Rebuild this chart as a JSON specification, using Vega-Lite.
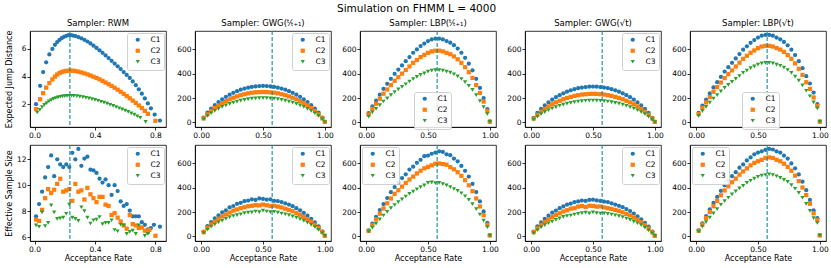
{
"$schema":"https://vega.github.io/schema/vega-lite/v6.json",
"padding":{"left":4,"top":3,"right":2,"bottom":2},
"title":{"text":"Simulation on FHMM L = 4000","fontSize":10.5,"anchor":"middle","offset":4,"fontWeight":"normal","font":"DejaVu Sans","color":"#000"},
"config":{
"font":"DejaVu Sans",
"view":{"stroke":"#000","strokeWidth":0.8},
"point":{"filled":true,"size":18,"opacity":1},
"rule":{"color":"#138d90","strokeDash":[4,2],"strokeWidth":1.1},
"range":{"category":["#1f77b4","#ff7f0e","#2ca02c"],"symbol":["circle","square","triangle-down"]},
"axis":{"grid":false,"labelFontSize":7.5,"titleFontSize":8,"titleFontWeight":"normal","labelColor":"#000","titleColor":"#000","tickColor":"#000","domainColor":"#000","tickSize":3,"labelPadding":1,"titlePadding":2,"domainWidth":0.8,"tickWidth":0.8,"labelFlush":false,"labelOverlap":false},
"axisX":{"labelAngle":0},
"title":{"fontSize":8.5,"fontWeight":"normal","offset":3,"color":"#000"},
"legend":{"labelFontSize":7.5,"symbolSize":18,"fillColor":"rgba(255,255,255,0.85)","strokeColor":"#d0d0d0","cornerRadius":2,"padding":3,"rowPadding":0,"symbolOffset":4,"labelOffset":9,"offset":2,"labelColor":"#000","orient":"top-right"}
},
"datasets":{
"r1":[{"x":0.234}],
"r2":[{"x":0.574}],
"A1":[
{"s":"C1","x":0.01,"y":2.0},{"s":"C1","x":0.037,"y":3.33},{"s":"C1","x":0.057,"y":4.33},{"s":"C1","x":0.077,"y":5.03},{"s":"C1","x":0.098,"y":5.6},{"s":"C1","x":0.118,"y":6.0},{"s":"C1","x":0.135,"y":6.3},{"s":"C1","x":0.15,"y":6.5},{"s":"C1","x":0.165,"y":6.65},{"s":"C1","x":0.18,"y":6.78},{"s":"C1","x":0.195,"y":6.88},{"s":"C1","x":0.21,"y":6.95},{"s":"C1","x":0.225,"y":7.0},{"s":"C1","x":0.24,"y":7.0},{"s":"C1","x":0.255,"y":6.97},{"s":"C1","x":0.27,"y":6.93},{"s":"C1","x":0.29,"y":6.86},{"s":"C1","x":0.31,"y":6.77},{"s":"C1","x":0.33,"y":6.66},{"s":"C1","x":0.35,"y":6.54},{"s":"C1","x":0.37,"y":6.4},{"s":"C1","x":0.39,"y":6.24},{"s":"C1","x":0.41,"y":6.07},{"s":"C1","x":0.43,"y":5.9},{"s":"C1","x":0.45,"y":5.72},{"s":"C1","x":0.47,"y":5.53},{"s":"C1","x":0.49,"y":5.34},{"s":"C1","x":0.51,"y":5.14},{"s":"C1","x":0.53,"y":4.94},{"s":"C1","x":0.55,"y":4.74},{"s":"C1","x":0.57,"y":4.54},{"s":"C1","x":0.59,"y":4.33},{"s":"C1","x":0.61,"y":4.12},{"s":"C1","x":0.63,"y":3.9},{"s":"C1","x":0.65,"y":3.65},{"s":"C1","x":0.67,"y":3.38},{"s":"C1","x":0.69,"y":3.08},{"s":"C1","x":0.71,"y":2.76},{"s":"C1","x":0.73,"y":2.42},{"s":"C1","x":0.75,"y":2.06},{"s":"C1","x":0.77,"y":1.7},{"s":"C1","x":0.795,"y":1.25},{"s":"C1","x":0.83,"y":0.82},
{"s":"C2","x":0.01,"y":1.64},{"s":"C2","x":0.037,"y":2.36},{"s":"C2","x":0.057,"y":2.8},{"s":"C2","x":0.077,"y":3.2},{"s":"C2","x":0.098,"y":3.53},{"s":"C2","x":0.118,"y":3.8},{"s":"C2","x":0.135,"y":4.0},{"s":"C2","x":0.15,"y":4.15},{"s":"C2","x":0.165,"y":4.25},{"s":"C2","x":0.18,"y":4.33},{"s":"C2","x":0.195,"y":4.38},{"s":"C2","x":0.21,"y":4.41},{"s":"C2","x":0.225,"y":4.43},{"s":"C2","x":0.24,"y":4.43},{"s":"C2","x":0.255,"y":4.42},{"s":"C2","x":0.27,"y":4.4},{"s":"C2","x":0.29,"y":4.36},{"s":"C2","x":0.31,"y":4.3},{"s":"C2","x":0.33,"y":4.23},{"s":"C2","x":0.35,"y":4.16},{"s":"C2","x":0.37,"y":4.08},{"s":"C2","x":0.39,"y":3.99},{"s":"C2","x":0.41,"y":3.9},{"s":"C2","x":0.43,"y":3.8},{"s":"C2","x":0.45,"y":3.69},{"s":"C2","x":0.47,"y":3.57},{"s":"C2","x":0.49,"y":3.45},{"s":"C2","x":0.51,"y":3.32},{"s":"C2","x":0.53,"y":3.19},{"s":"C2","x":0.55,"y":3.05},{"s":"C2","x":0.57,"y":2.9},{"s":"C2","x":0.59,"y":2.75},{"s":"C2","x":0.61,"y":2.59},{"s":"C2","x":0.63,"y":2.43},{"s":"C2","x":0.65,"y":2.26},{"s":"C2","x":0.67,"y":2.09},{"s":"C2","x":0.69,"y":1.91},{"s":"C2","x":0.71,"y":1.72},{"s":"C2","x":0.73,"y":1.52},{"s":"C2","x":0.75,"y":1.3},{"s":"C2","x":0.8,"y":0.8},
{"s":"C3","x":0.018,"y":1.4},{"s":"C3","x":0.035,"y":1.6},{"s":"C3","x":0.05,"y":1.8},{"s":"C3","x":0.065,"y":1.95},{"s":"C3","x":0.08,"y":2.08},{"s":"C3","x":0.095,"y":2.2},{"s":"C3","x":0.11,"y":2.3},{"s":"C3","x":0.125,"y":2.38},{"s":"C3","x":0.14,"y":2.45},{"s":"C3","x":0.155,"y":2.5},{"s":"C3","x":0.17,"y":2.54},{"s":"C3","x":0.185,"y":2.57},{"s":"C3","x":0.2,"y":2.59},{"s":"C3","x":0.215,"y":2.6},{"s":"C3","x":0.23,"y":2.61},{"s":"C3","x":0.245,"y":2.61},{"s":"C3","x":0.26,"y":2.6},{"s":"C3","x":0.28,"y":2.58},{"s":"C3","x":0.3,"y":2.55},{"s":"C3","x":0.32,"y":2.51},{"s":"C3","x":0.34,"y":2.47},{"s":"C3","x":0.36,"y":2.42},{"s":"C3","x":0.38,"y":2.37},{"s":"C3","x":0.4,"y":2.31},{"s":"C3","x":0.42,"y":2.25},{"s":"C3","x":0.44,"y":2.18},{"s":"C3","x":0.46,"y":2.11},{"s":"C3","x":0.48,"y":2.04},{"s":"C3","x":0.5,"y":1.96},{"s":"C3","x":0.52,"y":1.88},{"s":"C3","x":0.54,"y":1.8},{"s":"C3","x":0.56,"y":1.71},{"s":"C3","x":0.58,"y":1.62},{"s":"C3","x":0.6,"y":1.53},{"s":"C3","x":0.62,"y":1.44},{"s":"C3","x":0.64,"y":1.34},{"s":"C3","x":0.66,"y":1.24},{"s":"C3","x":0.68,"y":1.13},{"s":"C3","x":0.7,"y":1.02},{"s":"C3","x":0.735,"y":0.72}
],
"A2":[
{"s":"C1","x":0.02,"y":39},{"s":"C1","x":0.05,"y":80},{"s":"C1","x":0.08,"y":113},{"s":"C1","x":0.11,"y":142},{"s":"C1","x":0.14,"y":167},{"s":"C1","x":0.17,"y":190},{"s":"C1","x":0.2,"y":210},{"s":"C1","x":0.23,"y":228},{"s":"C1","x":0.26,"y":243},{"s":"C1","x":0.29,"y":257},{"s":"C1","x":0.32,"y":269},{"s":"C1","x":0.35,"y":278},{"s":"C1","x":0.38,"y":286},{"s":"C1","x":0.41,"y":292},{"s":"C1","x":0.44,"y":296},{"s":"C1","x":0.47,"y":299},{"s":"C1","x":0.5,"y":300},{"s":"C1","x":0.53,"y":299},{"s":"C1","x":0.56,"y":296},{"s":"C1","x":0.59,"y":292},{"s":"C1","x":0.62,"y":286},{"s":"C1","x":0.65,"y":278},{"s":"C1","x":0.68,"y":269},{"s":"C1","x":0.71,"y":257},{"s":"C1","x":0.74,"y":243},{"s":"C1","x":0.77,"y":228},{"s":"C1","x":0.8,"y":210},{"s":"C1","x":0.83,"y":190},{"s":"C1","x":0.86,"y":167},{"s":"C1","x":0.89,"y":142},{"s":"C1","x":0.92,"y":113},{"s":"C1","x":0.95,"y":80},{"s":"C1","x":0.98,"y":39},{"s":"C1","x":1,"y":5},
{"s":"C2","x":0.02,"y":33},{"s":"C2","x":0.05,"y":66},{"s":"C2","x":0.08,"y":94},{"s":"C2","x":0.11,"y":118},{"s":"C2","x":0.14,"y":139},{"s":"C2","x":0.17,"y":158},{"s":"C2","x":0.2,"y":175},{"s":"C2","x":0.23,"y":190},{"s":"C2","x":0.26,"y":203},{"s":"C2","x":0.29,"y":214},{"s":"C2","x":0.32,"y":224},{"s":"C2","x":0.35,"y":232},{"s":"C2","x":0.38,"y":239},{"s":"C2","x":0.41,"y":244},{"s":"C2","x":0.44,"y":247},{"s":"C2","x":0.47,"y":249},{"s":"C2","x":0.5,"y":250},{"s":"C2","x":0.53,"y":249},{"s":"C2","x":0.56,"y":247},{"s":"C2","x":0.59,"y":244},{"s":"C2","x":0.62,"y":239},{"s":"C2","x":0.65,"y":232},{"s":"C2","x":0.68,"y":224},{"s":"C2","x":0.71,"y":214},{"s":"C2","x":0.74,"y":203},{"s":"C2","x":0.77,"y":190},{"s":"C2","x":0.8,"y":175},{"s":"C2","x":0.83,"y":158},{"s":"C2","x":0.86,"y":139},{"s":"C2","x":0.89,"y":118},{"s":"C2","x":0.92,"y":94},{"s":"C2","x":0.95,"y":66},{"s":"C2","x":0.98,"y":33},{"s":"C2","x":1,"y":4},
{"s":"C3","x":0.02,"y":26},{"s":"C3","x":0.05,"y":53},{"s":"C3","x":0.08,"y":75},{"s":"C3","x":0.11,"y":94},{"s":"C3","x":0.14,"y":111},{"s":"C3","x":0.17,"y":127},{"s":"C3","x":0.2,"y":140},{"s":"C3","x":0.23,"y":152},{"s":"C3","x":0.26,"y":162},{"s":"C3","x":0.29,"y":171},{"s":"C3","x":0.32,"y":179},{"s":"C3","x":0.35,"y":185},{"s":"C3","x":0.38,"y":191},{"s":"C3","x":0.41,"y":195},{"s":"C3","x":0.44,"y":198},{"s":"C3","x":0.47,"y":199},{"s":"C3","x":0.5,"y":200},{"s":"C3","x":0.53,"y":199},{"s":"C3","x":0.56,"y":198},{"s":"C3","x":0.59,"y":195},{"s":"C3","x":0.62,"y":191},{"s":"C3","x":0.65,"y":185},{"s":"C3","x":0.68,"y":179},{"s":"C3","x":0.71,"y":171},{"s":"C3","x":0.74,"y":162},{"s":"C3","x":0.77,"y":152},{"s":"C3","x":0.8,"y":140},{"s":"C3","x":0.83,"y":127},{"s":"C3","x":0.86,"y":111},{"s":"C3","x":0.89,"y":94},{"s":"C3","x":0.92,"y":75},{"s":"C3","x":0.95,"y":53},{"s":"C3","x":0.98,"y":26},{"s":"C3","x":1,"y":3}
],
"A3":[
{"s":"C1","x":0.02,"y":76},{"s":"C1","x":0.05,"y":131},{"s":"C1","x":0.08,"y":179},{"s":"C1","x":0.11,"y":228},{"s":"C1","x":0.14,"y":276},{"s":"C1","x":0.17,"y":317},{"s":"C1","x":0.2,"y":359},{"s":"C1","x":0.23,"y":400},{"s":"C1","x":0.26,"y":435},{"s":"C1","x":0.29,"y":469},{"s":"C1","x":0.32,"y":504},{"s":"C1","x":0.35,"y":538},{"s":"C1","x":0.38,"y":573},{"s":"C1","x":0.41,"y":600},{"s":"C1","x":0.44,"y":628},{"s":"C1","x":0.47,"y":649},{"s":"C1","x":0.5,"y":669},{"s":"C1","x":0.53,"y":683},{"s":"C1","x":0.56,"y":690},{"s":"C1","x":0.59,"y":690},{"s":"C1","x":0.62,"y":683},{"s":"C1","x":0.65,"y":669},{"s":"C1","x":0.68,"y":656},{"s":"C1","x":0.71,"y":635},{"s":"C1","x":0.74,"y":607},{"s":"C1","x":0.77,"y":573},{"s":"C1","x":0.8,"y":531},{"s":"C1","x":0.83,"y":483},{"s":"C1","x":0.86,"y":428},{"s":"C1","x":0.89,"y":359},{"s":"C1","x":0.92,"y":283},{"s":"C1","x":0.95,"y":200},{"s":"C1","x":0.98,"y":110},{"s":"C1","x":1,"y":8},
{"s":"C2","x":0.02,"y":65},{"s":"C2","x":0.05,"y":112},{"s":"C2","x":0.08,"y":153},{"s":"C2","x":0.11,"y":195},{"s":"C2","x":0.14,"y":236},{"s":"C2","x":0.17,"y":271},{"s":"C2","x":0.2,"y":307},{"s":"C2","x":0.23,"y":342},{"s":"C2","x":0.26,"y":372},{"s":"C2","x":0.29,"y":401},{"s":"C2","x":0.32,"y":431},{"s":"C2","x":0.35,"y":460},{"s":"C2","x":0.38,"y":490},{"s":"C2","x":0.41,"y":513},{"s":"C2","x":0.44,"y":537},{"s":"C2","x":0.47,"y":555},{"s":"C2","x":0.5,"y":572},{"s":"C2","x":0.53,"y":584},{"s":"C2","x":0.56,"y":590},{"s":"C2","x":0.59,"y":590},{"s":"C2","x":0.62,"y":584},{"s":"C2","x":0.65,"y":572},{"s":"C2","x":0.68,"y":561},{"s":"C2","x":0.71,"y":543},{"s":"C2","x":0.74,"y":519},{"s":"C2","x":0.77,"y":490},{"s":"C2","x":0.8,"y":454},{"s":"C2","x":0.83,"y":413},{"s":"C2","x":0.86,"y":366},{"s":"C2","x":0.89,"y":307},{"s":"C2","x":0.92,"y":242},{"s":"C2","x":0.95,"y":171},{"s":"C2","x":0.98,"y":94},{"s":"C2","x":1,"y":6},
{"s":"C3","x":0.02,"y":47},{"s":"C3","x":0.05,"y":82},{"s":"C3","x":0.08,"y":112},{"s":"C3","x":0.11,"y":142},{"s":"C3","x":0.14,"y":172},{"s":"C3","x":0.17,"y":198},{"s":"C3","x":0.2,"y":224},{"s":"C3","x":0.23,"y":249},{"s":"C3","x":0.26,"y":271},{"s":"C3","x":0.29,"y":292},{"s":"C3","x":0.32,"y":314},{"s":"C3","x":0.35,"y":335},{"s":"C3","x":0.38,"y":357},{"s":"C3","x":0.41,"y":374},{"s":"C3","x":0.44,"y":391},{"s":"C3","x":0.47,"y":404},{"s":"C3","x":0.5,"y":417},{"s":"C3","x":0.53,"y":426},{"s":"C3","x":0.56,"y":430},{"s":"C3","x":0.59,"y":430},{"s":"C3","x":0.62,"y":426},{"s":"C3","x":0.65,"y":417},{"s":"C3","x":0.68,"y":409},{"s":"C3","x":0.71,"y":396},{"s":"C3","x":0.74,"y":378},{"s":"C3","x":0.77,"y":357},{"s":"C3","x":0.8,"y":331},{"s":"C3","x":0.83,"y":301},{"s":"C3","x":0.86,"y":267},{"s":"C3","x":0.89,"y":224},{"s":"C3","x":0.92,"y":176},{"s":"C3","x":0.95,"y":125},{"s":"C3","x":0.98,"y":69},{"s":"C3","x":1,"y":4}
],
"A4":[
{"s":"C1","x":0.02,"y":38},{"s":"C1","x":0.05,"y":78},{"s":"C1","x":0.08,"y":111},{"s":"C1","x":0.11,"y":139},{"s":"C1","x":0.14,"y":164},{"s":"C1","x":0.17,"y":187},{"s":"C1","x":0.2,"y":207},{"s":"C1","x":0.23,"y":224},{"s":"C1","x":0.26,"y":239},{"s":"C1","x":0.29,"y":253},{"s":"C1","x":0.32,"y":264},{"s":"C1","x":0.35,"y":273},{"s":"C1","x":0.38,"y":281},{"s":"C1","x":0.41,"y":287},{"s":"C1","x":0.44,"y":291},{"s":"C1","x":0.47,"y":294},{"s":"C1","x":0.5,"y":295},{"s":"C1","x":0.53,"y":294},{"s":"C1","x":0.56,"y":291},{"s":"C1","x":0.59,"y":287},{"s":"C1","x":0.62,"y":281},{"s":"C1","x":0.65,"y":273},{"s":"C1","x":0.68,"y":264},{"s":"C1","x":0.71,"y":253},{"s":"C1","x":0.74,"y":239},{"s":"C1","x":0.77,"y":224},{"s":"C1","x":0.8,"y":207},{"s":"C1","x":0.83,"y":187},{"s":"C1","x":0.86,"y":164},{"s":"C1","x":0.89,"y":139},{"s":"C1","x":0.92,"y":111},{"s":"C1","x":0.95,"y":78},{"s":"C1","x":0.98,"y":38},{"s":"C1","x":1,"y":5},
{"s":"C2","x":0.02,"y":31},{"s":"C2","x":0.05,"y":62},{"s":"C2","x":0.08,"y":88},{"s":"C2","x":0.11,"y":111},{"s":"C2","x":0.14,"y":131},{"s":"C2","x":0.17,"y":149},{"s":"C2","x":0.2,"y":165},{"s":"C2","x":0.23,"y":178},{"s":"C2","x":0.26,"y":191},{"s":"C2","x":0.29,"y":201},{"s":"C2","x":0.32,"y":210},{"s":"C2","x":0.35,"y":218},{"s":"C2","x":0.38,"y":224},{"s":"C2","x":0.41,"y":229},{"s":"C2","x":0.44,"y":232},{"s":"C2","x":0.47,"y":234},{"s":"C2","x":0.5,"y":235},{"s":"C2","x":0.53,"y":234},{"s":"C2","x":0.56,"y":232},{"s":"C2","x":0.59,"y":229},{"s":"C2","x":0.62,"y":224},{"s":"C2","x":0.65,"y":218},{"s":"C2","x":0.68,"y":210},{"s":"C2","x":0.71,"y":201},{"s":"C2","x":0.74,"y":191},{"s":"C2","x":0.77,"y":178},{"s":"C2","x":0.8,"y":165},{"s":"C2","x":0.83,"y":149},{"s":"C2","x":0.86,"y":131},{"s":"C2","x":0.89,"y":111},{"s":"C2","x":0.92,"y":88},{"s":"C2","x":0.95,"y":62},{"s":"C2","x":0.98,"y":31},{"s":"C2","x":1,"y":4},
{"s":"C3","x":0.02,"y":23},{"s":"C3","x":0.05,"y":48},{"s":"C3","x":0.08,"y":68},{"s":"C3","x":0.11,"y":85},{"s":"C3","x":0.14,"y":100},{"s":"C3","x":0.17,"y":114},{"s":"C3","x":0.2,"y":126},{"s":"C3","x":0.23,"y":137},{"s":"C3","x":0.26,"y":146},{"s":"C3","x":0.29,"y":154},{"s":"C3","x":0.32,"y":161},{"s":"C3","x":0.35,"y":167},{"s":"C3","x":0.38,"y":172},{"s":"C3","x":0.41,"y":175},{"s":"C3","x":0.44,"y":178},{"s":"C3","x":0.47,"y":179},{"s":"C3","x":0.5,"y":180},{"s":"C3","x":0.53,"y":179},{"s":"C3","x":0.56,"y":178},{"s":"C3","x":0.59,"y":175},{"s":"C3","x":0.62,"y":172},{"s":"C3","x":0.65,"y":167},{"s":"C3","x":0.68,"y":161},{"s":"C3","x":0.71,"y":154},{"s":"C3","x":0.74,"y":146},{"s":"C3","x":0.77,"y":137},{"s":"C3","x":0.8,"y":126},{"s":"C3","x":0.83,"y":114},{"s":"C3","x":0.86,"y":100},{"s":"C3","x":0.89,"y":85},{"s":"C3","x":0.92,"y":68},{"s":"C3","x":0.95,"y":48},{"s":"C3","x":0.98,"y":23},{"s":"C3","x":1,"y":3}
],
"A5":[
{"s":"C1","x":0.02,"y":79},{"s":"C1","x":0.05,"y":137},{"s":"C1","x":0.08,"y":187},{"s":"C1","x":0.11,"y":238},{"s":"C1","x":0.14,"y":288},{"s":"C1","x":0.17,"y":331},{"s":"C1","x":0.2,"y":374},{"s":"C1","x":0.23,"y":418},{"s":"C1","x":0.26,"y":454},{"s":"C1","x":0.29,"y":490},{"s":"C1","x":0.32,"y":526},{"s":"C1","x":0.35,"y":562},{"s":"C1","x":0.38,"y":598},{"s":"C1","x":0.41,"y":626},{"s":"C1","x":0.44,"y":655},{"s":"C1","x":0.47,"y":677},{"s":"C1","x":0.5,"y":698},{"s":"C1","x":0.53,"y":713},{"s":"C1","x":0.56,"y":720},{"s":"C1","x":0.59,"y":720},{"s":"C1","x":0.62,"y":713},{"s":"C1","x":0.65,"y":698},{"s":"C1","x":0.68,"y":684},{"s":"C1","x":0.71,"y":662},{"s":"C1","x":0.74,"y":634},{"s":"C1","x":0.77,"y":598},{"s":"C1","x":0.8,"y":554},{"s":"C1","x":0.83,"y":504},{"s":"C1","x":0.86,"y":446},{"s":"C1","x":0.89,"y":380},{"s":"C1","x":0.92,"y":320},{"s":"C1","x":0.95,"y":245},{"s":"C1","x":0.98,"y":150},{"s":"C1","x":1,"y":8},
{"s":"C2","x":0.02,"y":69},{"s":"C2","x":0.05,"y":120},{"s":"C2","x":0.08,"y":164},{"s":"C2","x":0.11,"y":208},{"s":"C2","x":0.14,"y":252},{"s":"C2","x":0.17,"y":290},{"s":"C2","x":0.2,"y":328},{"s":"C2","x":0.23,"y":365},{"s":"C2","x":0.26,"y":397},{"s":"C2","x":0.29,"y":428},{"s":"C2","x":0.32,"y":460},{"s":"C2","x":0.35,"y":491},{"s":"C2","x":0.38,"y":523},{"s":"C2","x":0.41,"y":548},{"s":"C2","x":0.44,"y":573},{"s":"C2","x":0.47,"y":592},{"s":"C2","x":0.5,"y":611},{"s":"C2","x":0.53,"y":624},{"s":"C2","x":0.56,"y":630},{"s":"C2","x":0.59,"y":630},{"s":"C2","x":0.62,"y":624},{"s":"C2","x":0.65,"y":611},{"s":"C2","x":0.68,"y":599},{"s":"C2","x":0.71,"y":580},{"s":"C2","x":0.74,"y":554},{"s":"C2","x":0.77,"y":523},{"s":"C2","x":0.8,"y":485},{"s":"C2","x":0.83,"y":441},{"s":"C2","x":0.86,"y":391},{"s":"C2","x":0.89,"y":330},{"s":"C2","x":0.92,"y":275},{"s":"C2","x":0.95,"y":205},{"s":"C2","x":0.98,"y":135},{"s":"C2","x":1,"y":6},
{"s":"C3","x":0.02,"y":54},{"s":"C3","x":0.05,"y":93},{"s":"C3","x":0.08,"y":127},{"s":"C3","x":0.11,"y":162},{"s":"C3","x":0.14,"y":196},{"s":"C3","x":0.17,"y":225},{"s":"C3","x":0.2,"y":255},{"s":"C3","x":0.23,"y":284},{"s":"C3","x":0.26,"y":309},{"s":"C3","x":0.29,"y":333},{"s":"C3","x":0.32,"y":358},{"s":"C3","x":0.35,"y":382},{"s":"C3","x":0.38,"y":407},{"s":"C3","x":0.41,"y":426},{"s":"C3","x":0.44,"y":446},{"s":"C3","x":0.47,"y":461},{"s":"C3","x":0.5,"y":475},{"s":"C3","x":0.53,"y":485},{"s":"C3","x":0.56,"y":490},{"s":"C3","x":0.59,"y":490},{"s":"C3","x":0.62,"y":485},{"s":"C3","x":0.65,"y":475},{"s":"C3","x":0.68,"y":466},{"s":"C3","x":0.71,"y":451},{"s":"C3","x":0.74,"y":431},{"s":"C3","x":0.77,"y":407},{"s":"C3","x":0.8,"y":377},{"s":"C3","x":0.83,"y":343},{"s":"C3","x":0.86,"y":304},{"s":"C3","x":0.89,"y":260},{"s":"C3","x":0.92,"y":215},{"s":"C3","x":0.95,"y":165},{"s":"C3","x":0.98,"y":115},{"s":"C3","x":1,"y":4}
],
"B1":[
{"s":"C1","x":0.01,"y":7.6},{"s":"C1","x":0.03,"y":8.55},{"s":"C1","x":0.05,"y":9.5},{"s":"C1","x":0.07,"y":10.6},{"s":"C1","x":0.09,"y":11.4},{"s":"C1","x":0.11,"y":12.3},{"s":"C1","x":0.13,"y":10.7},{"s":"C1","x":0.15,"y":12.0},{"s":"C1","x":0.17,"y":11.6},{"s":"C1","x":0.19,"y":11.4},{"s":"C1","x":0.21,"y":11.6},{"s":"C1","x":0.23,"y":11.4},{"s":"C1","x":0.25,"y":12.5},{"s":"C1","x":0.27,"y":12.0},{"s":"C1","x":0.29,"y":12.8},{"s":"C1","x":0.31,"y":11.5},{"s":"C1","x":0.33,"y":12.05},{"s":"C1","x":0.35,"y":12.2},{"s":"C1","x":0.37,"y":11.2},{"s":"C1","x":0.39,"y":11.15},{"s":"C1","x":0.41,"y":10.95},{"s":"C1","x":0.43,"y":10.5},{"s":"C1","x":0.45,"y":10.2},{"s":"C1","x":0.47,"y":10.45},{"s":"C1","x":0.49,"y":10.0},{"s":"C1","x":0.51,"y":9.25},{"s":"C1","x":0.53,"y":10.0},{"s":"C1","x":0.55,"y":9.55},{"s":"C1","x":0.57,"y":8.75},{"s":"C1","x":0.59,"y":8.4},{"s":"C1","x":0.61,"y":8.55},{"s":"C1","x":0.63,"y":8.05},{"s":"C1","x":0.65,"y":7.6},{"s":"C1","x":0.67,"y":7.6},{"s":"C1","x":0.69,"y":7.6},{"s":"C1","x":0.71,"y":7.15},{"s":"C1","x":0.73,"y":6.95},{"s":"C1","x":0.75,"y":6.6},{"s":"C1","x":0.77,"y":6.7},{"s":"C1","x":0.79,"y":6.95},{"s":"C1","x":0.83,"y":6.8},
{"s":"C2","x":0.01,"y":7.35},{"s":"C2","x":0.03,"y":7.25},{"s":"C2","x":0.05,"y":8.1},{"s":"C2","x":0.07,"y":9.0},{"s":"C2","x":0.09,"y":9.7},{"s":"C2","x":0.11,"y":9.4},{"s":"C2","x":0.13,"y":9.65},{"s":"C2","x":0.15,"y":10.1},{"s":"C2","x":0.17,"y":10.5},{"s":"C2","x":0.19,"y":9.5},{"s":"C2","x":0.21,"y":9.6},{"s":"C2","x":0.23,"y":9.7},{"s":"C2","x":0.25,"y":8.8},{"s":"C2","x":0.27,"y":10.1},{"s":"C2","x":0.29,"y":9.5},{"s":"C2","x":0.31,"y":9.6},{"s":"C2","x":0.33,"y":8.9},{"s":"C2","x":0.35,"y":9.8},{"s":"C2","x":0.37,"y":9.3},{"s":"C2","x":0.39,"y":9.0},{"s":"C2","x":0.41,"y":8.7},{"s":"C2","x":0.43,"y":9.1},{"s":"C2","x":0.45,"y":9.1},{"s":"C2","x":0.47,"y":8.5},{"s":"C2","x":0.49,"y":8.4},{"s":"C2","x":0.51,"y":7.7},{"s":"C2","x":0.53,"y":7.85},{"s":"C2","x":0.55,"y":7.5},{"s":"C2","x":0.57,"y":7.2},{"s":"C2","x":0.59,"y":6.9},{"s":"C2","x":0.61,"y":6.65},{"s":"C2","x":0.63,"y":7.7},{"s":"C2","x":0.65,"y":7.0},{"s":"C2","x":0.67,"y":6.9},{"s":"C2","x":0.69,"y":6.7},{"s":"C2","x":0.71,"y":6.75},{"s":"C2","x":0.73,"y":6.5},{"s":"C2","x":0.75,"y":6.4},{"s":"C2","x":0.76,"y":6.55},{"s":"C2","x":0.8,"y":6.1},
{"s":"C3","x":0.01,"y":6.9},{"s":"C3","x":0.03,"y":6.8},{"s":"C3","x":0.05,"y":7.9},{"s":"C3","x":0.07,"y":6.85},{"s":"C3","x":0.09,"y":7.1},{"s":"C3","x":0.11,"y":8.45},{"s":"C3","x":0.13,"y":7.9},{"s":"C3","x":0.15,"y":7.4},{"s":"C3","x":0.17,"y":7.45},{"s":"C3","x":0.19,"y":7.5},{"s":"C3","x":0.21,"y":7.8},{"s":"C3","x":0.23,"y":8.5},{"s":"C3","x":0.25,"y":7.5},{"s":"C3","x":0.27,"y":7.4},{"s":"C3","x":0.29,"y":7.25},{"s":"C3","x":0.31,"y":8.3},{"s":"C3","x":0.33,"y":8.0},{"s":"C3","x":0.35,"y":7.5},{"s":"C3","x":0.37,"y":7.05},{"s":"C3","x":0.39,"y":7.3},{"s":"C3","x":0.41,"y":7.35},{"s":"C3","x":0.43,"y":7.55},{"s":"C3","x":0.45,"y":7.0},{"s":"C3","x":0.47,"y":7.1},{"s":"C3","x":0.49,"y":7.1},{"s":"C3","x":0.51,"y":7.3},{"s":"C3","x":0.53,"y":6.55},{"s":"C3","x":0.55,"y":6.45},{"s":"C3","x":0.57,"y":6.95},{"s":"C3","x":0.59,"y":6.9},{"s":"C3","x":0.61,"y":6.25},{"s":"C3","x":0.63,"y":6.4},{"s":"C3","x":0.65,"y":6.5},{"s":"C3","x":0.67,"y":6.25},{"s":"C3","x":0.69,"y":6.9},{"s":"C3","x":0.73,"y":6.1},{"s":"C3","x":0.75,"y":6.25}
],
"B2":[
{"s":"C1","x":0.02,"y":40},{"s":"C1","x":0.05,"y":85},{"s":"C1","x":0.08,"y":118},{"s":"C1","x":0.11,"y":148},{"s":"C1","x":0.14,"y":172},{"s":"C1","x":0.17,"y":198},{"s":"C1","x":0.2,"y":215},{"s":"C1","x":0.23,"y":238},{"s":"C1","x":0.26,"y":250},{"s":"C1","x":0.29,"y":268},{"s":"C1","x":0.32,"y":276},{"s":"C1","x":0.35,"y":290},{"s":"C1","x":0.38,"y":295},{"s":"C1","x":0.41,"y":305},{"s":"C1","x":0.44,"y":300},{"s":"C1","x":0.47,"y":312},{"s":"C1","x":0.5,"y":308},{"s":"C1","x":0.53,"y":302},{"s":"C1","x":0.56,"y":305},{"s":"C1","x":0.59,"y":293},{"s":"C1","x":0.62,"y":290},{"s":"C1","x":0.65,"y":282},{"s":"C1","x":0.68,"y":272},{"s":"C1","x":0.71,"y":262},{"s":"C1","x":0.74,"y":248},{"s":"C1","x":0.77,"y":232},{"s":"C1","x":0.8,"y":215},{"s":"C1","x":0.83,"y":193},{"s":"C1","x":0.86,"y":170},{"s":"C1","x":0.89,"y":145},{"s":"C1","x":0.92,"y":115},{"s":"C1","x":0.95,"y":82},{"s":"C1","x":0.98,"y":42},{"s":"C1","x":1,"y":6},
{"s":"C2","x":0.02,"y":35},{"s":"C2","x":0.05,"y":70},{"s":"C2","x":0.08,"y":98},{"s":"C2","x":0.11,"y":122},{"s":"C2","x":0.14,"y":145},{"s":"C2","x":0.17,"y":165},{"s":"C2","x":0.2,"y":180},{"s":"C2","x":0.23,"y":196},{"s":"C2","x":0.26,"y":212},{"s":"C2","x":0.29,"y":222},{"s":"C2","x":0.32,"y":232},{"s":"C2","x":0.35,"y":240},{"s":"C2","x":0.38,"y":248},{"s":"C2","x":0.41,"y":252},{"s":"C2","x":0.44,"y":258},{"s":"C2","x":0.47,"y":255},{"s":"C2","x":0.5,"y":262},{"s":"C2","x":0.53,"y":256},{"s":"C2","x":0.56,"y":250},{"s":"C2","x":0.59,"y":252},{"s":"C2","x":0.62,"y":245},{"s":"C2","x":0.65,"y":238},{"s":"C2","x":0.68,"y":228},{"s":"C2","x":0.71,"y":218},{"s":"C2","x":0.74,"y":208},{"s":"C2","x":0.77,"y":192},{"s":"C2","x":0.8,"y":178},{"s":"C2","x":0.83,"y":160},{"s":"C2","x":0.86,"y":140},{"s":"C2","x":0.89,"y":120},{"s":"C2","x":0.92,"y":95},{"s":"C2","x":0.95,"y":68},{"s":"C2","x":0.98,"y":35},{"s":"C2","x":1,"y":5},
{"s":"C3","x":0.02,"y":28},{"s":"C3","x":0.05,"y":56},{"s":"C3","x":0.08,"y":80},{"s":"C3","x":0.11,"y":98},{"s":"C3","x":0.14,"y":115},{"s":"C3","x":0.17,"y":130},{"s":"C3","x":0.2,"y":145},{"s":"C3","x":0.23,"y":158},{"s":"C3","x":0.26,"y":168},{"s":"C3","x":0.29,"y":175},{"s":"C3","x":0.32,"y":182},{"s":"C3","x":0.35,"y":192},{"s":"C3","x":0.38,"y":196},{"s":"C3","x":0.41,"y":198},{"s":"C3","x":0.44,"y":205},{"s":"C3","x":0.47,"y":200},{"s":"C3","x":0.5,"y":212},{"s":"C3","x":0.53,"y":205},{"s":"C3","x":0.56,"y":200},{"s":"C3","x":0.59,"y":203},{"s":"C3","x":0.62,"y":195},{"s":"C3","x":0.65,"y":188},{"s":"C3","x":0.68,"y":182},{"s":"C3","x":0.71,"y":175},{"s":"C3","x":0.74,"y":165},{"s":"C3","x":0.77,"y":155},{"s":"C3","x":0.8,"y":142},{"s":"C3","x":0.83,"y":128},{"s":"C3","x":0.86,"y":112},{"s":"C3","x":0.89,"y":95},{"s":"C3","x":0.92,"y":76},{"s":"C3","x":0.95,"y":54},{"s":"C3","x":0.98,"y":28},{"s":"C3","x":1,"y":4}
],
"B3":[
{"s":"C1","x":0.02,"y":49},{"s":"C1","x":0.05,"y":105},{"s":"C1","x":0.08,"y":161},{"s":"C1","x":0.11,"y":217},{"s":"C1","x":0.14,"y":266},{"s":"C1","x":0.17,"y":315},{"s":"C1","x":0.2,"y":364},{"s":"C1","x":0.23,"y":406},{"s":"C1","x":0.26,"y":441},{"s":"C1","x":0.29,"y":480},{"s":"C1","x":0.32,"y":511},{"s":"C1","x":0.35,"y":550},{"s":"C1","x":0.38,"y":574},{"s":"C1","x":0.41,"y":605},{"s":"C1","x":0.44,"y":630},{"s":"C1","x":0.47,"y":660},{"s":"C1","x":0.5,"y":665},{"s":"C1","x":0.53,"y":680},{"s":"C1","x":0.56,"y":690},{"s":"C1","x":0.59,"y":700},{"s":"C1","x":0.62,"y":695},{"s":"C1","x":0.65,"y":675},{"s":"C1","x":0.68,"y":668},{"s":"C1","x":0.71,"y":640},{"s":"C1","x":0.74,"y":618},{"s":"C1","x":0.77,"y":580},{"s":"C1","x":0.8,"y":540},{"s":"C1","x":0.83,"y":492},{"s":"C1","x":0.86,"y":432},{"s":"C1","x":0.89,"y":365},{"s":"C1","x":0.92,"y":288},{"s":"C1","x":0.95,"y":205},{"s":"C1","x":0.98,"y":112},{"s":"C1","x":1,"y":10},
{"s":"C2","x":0.02,"y":45},{"s":"C2","x":0.05,"y":92},{"s":"C2","x":0.08,"y":140},{"s":"C2","x":0.11,"y":186},{"s":"C2","x":0.14,"y":230},{"s":"C2","x":0.17,"y":272},{"s":"C2","x":0.2,"y":312},{"s":"C2","x":0.23,"y":350},{"s":"C2","x":0.26,"y":380},{"s":"C2","x":0.29,"y":410},{"s":"C2","x":0.32,"y":440},{"s":"C2","x":0.35,"y":468},{"s":"C2","x":0.38,"y":492},{"s":"C2","x":0.41,"y":518},{"s":"C2","x":0.44,"y":540},{"s":"C2","x":0.47,"y":560},{"s":"C2","x":0.5,"y":572},{"s":"C2","x":0.53,"y":585},{"s":"C2","x":0.56,"y":598},{"s":"C2","x":0.59,"y":600},{"s":"C2","x":0.62,"y":595},{"s":"C2","x":0.65,"y":590},{"s":"C2","x":0.68,"y":570},{"s":"C2","x":0.71,"y":552},{"s":"C2","x":0.74,"y":528},{"s":"C2","x":0.77,"y":498},{"s":"C2","x":0.8,"y":462},{"s":"C2","x":0.83,"y":420},{"s":"C2","x":0.86,"y":372},{"s":"C2","x":0.89,"y":312},{"s":"C2","x":0.92,"y":246},{"s":"C2","x":0.95,"y":174},{"s":"C2","x":0.98,"y":96},{"s":"C2","x":1,"y":8},
{"s":"C3","x":0.02,"y":40},{"s":"C3","x":0.05,"y":72},{"s":"C3","x":0.08,"y":105},{"s":"C3","x":0.11,"y":140},{"s":"C3","x":0.14,"y":172},{"s":"C3","x":0.17,"y":202},{"s":"C3","x":0.2,"y":232},{"s":"C3","x":0.23,"y":258},{"s":"C3","x":0.26,"y":282},{"s":"C3","x":0.29,"y":305},{"s":"C3","x":0.32,"y":328},{"s":"C3","x":0.35,"y":350},{"s":"C3","x":0.38,"y":368},{"s":"C3","x":0.41,"y":388},{"s":"C3","x":0.44,"y":405},{"s":"C3","x":0.47,"y":420},{"s":"C3","x":0.5,"y":440},{"s":"C3","x":0.53,"y":445},{"s":"C3","x":0.56,"y":438},{"s":"C3","x":0.59,"y":440},{"s":"C3","x":0.62,"y":430},{"s":"C3","x":0.65,"y":420},{"s":"C3","x":0.68,"y":405},{"s":"C3","x":0.71,"y":390},{"s":"C3","x":0.74,"y":375},{"s":"C3","x":0.77,"y":355},{"s":"C3","x":0.8,"y":330},{"s":"C3","x":0.83,"y":300},{"s":"C3","x":0.86,"y":265},{"s":"C3","x":0.89,"y":225},{"s":"C3","x":0.92,"y":180},{"s":"C3","x":0.95,"y":130},{"s":"C3","x":0.98,"y":75},{"s":"C3","x":1,"y":6}
],
"B4":[
{"s":"C1","x":0.02,"y":40},{"s":"C1","x":0.05,"y":82},{"s":"C1","x":0.08,"y":115},{"s":"C1","x":0.11,"y":145},{"s":"C1","x":0.14,"y":170},{"s":"C1","x":0.17,"y":195},{"s":"C1","x":0.2,"y":212},{"s":"C1","x":0.23,"y":232},{"s":"C1","x":0.26,"y":246},{"s":"C1","x":0.29,"y":262},{"s":"C1","x":0.32,"y":270},{"s":"C1","x":0.35,"y":282},{"s":"C1","x":0.38,"y":288},{"s":"C1","x":0.41,"y":295},{"s":"C1","x":0.44,"y":292},{"s":"C1","x":0.47,"y":300},{"s":"C1","x":0.5,"y":302},{"s":"C1","x":0.53,"y":296},{"s":"C1","x":0.56,"y":292},{"s":"C1","x":0.59,"y":286},{"s":"C1","x":0.62,"y":282},{"s":"C1","x":0.65,"y":272},{"s":"C1","x":0.68,"y":262},{"s":"C1","x":0.71,"y":252},{"s":"C1","x":0.74,"y":240},{"s":"C1","x":0.77,"y":225},{"s":"C1","x":0.8,"y":208},{"s":"C1","x":0.83,"y":188},{"s":"C1","x":0.86,"y":165},{"s":"C1","x":0.89,"y":140},{"s":"C1","x":0.92,"y":112},{"s":"C1","x":0.95,"y":80},{"s":"C1","x":0.98,"y":40},{"s":"C1","x":1,"y":6},
{"s":"C2","x":0.02,"y":34},{"s":"C2","x":0.05,"y":66},{"s":"C2","x":0.08,"y":95},{"s":"C2","x":0.11,"y":118},{"s":"C2","x":0.14,"y":140},{"s":"C2","x":0.17,"y":160},{"s":"C2","x":0.2,"y":176},{"s":"C2","x":0.23,"y":190},{"s":"C2","x":0.26,"y":205},{"s":"C2","x":0.29,"y":215},{"s":"C2","x":0.32,"y":228},{"s":"C2","x":0.35,"y":232},{"s":"C2","x":0.38,"y":245},{"s":"C2","x":0.41,"y":250},{"s":"C2","x":0.44,"y":242},{"s":"C2","x":0.47,"y":252},{"s":"C2","x":0.5,"y":250},{"s":"C2","x":0.53,"y":245},{"s":"C2","x":0.56,"y":246},{"s":"C2","x":0.59,"y":238},{"s":"C2","x":0.62,"y":232},{"s":"C2","x":0.65,"y":226},{"s":"C2","x":0.68,"y":218},{"s":"C2","x":0.71,"y":210},{"s":"C2","x":0.74,"y":198},{"s":"C2","x":0.77,"y":185},{"s":"C2","x":0.8,"y":172},{"s":"C2","x":0.83,"y":155},{"s":"C2","x":0.86,"y":137},{"s":"C2","x":0.89,"y":116},{"s":"C2","x":0.92,"y":92},{"s":"C2","x":0.95,"y":65},{"s":"C2","x":0.98,"y":33},{"s":"C2","x":1,"y":5},
{"s":"C3","x":0.02,"y":26},{"s":"C3","x":0.05,"y":52},{"s":"C3","x":0.08,"y":74},{"s":"C3","x":0.11,"y":92},{"s":"C3","x":0.14,"y":108},{"s":"C3","x":0.17,"y":122},{"s":"C3","x":0.2,"y":136},{"s":"C3","x":0.23,"y":148},{"s":"C3","x":0.26,"y":160},{"s":"C3","x":0.29,"y":168},{"s":"C3","x":0.32,"y":172},{"s":"C3","x":0.35,"y":180},{"s":"C3","x":0.38,"y":185},{"s":"C3","x":0.41,"y":192},{"s":"C3","x":0.44,"y":195},{"s":"C3","x":0.47,"y":190},{"s":"C3","x":0.5,"y":198},{"s":"C3","x":0.53,"y":192},{"s":"C3","x":0.56,"y":188},{"s":"C3","x":0.59,"y":190},{"s":"C3","x":0.62,"y":185},{"s":"C3","x":0.65,"y":180},{"s":"C3","x":0.68,"y":174},{"s":"C3","x":0.71,"y":166},{"s":"C3","x":0.74,"y":158},{"s":"C3","x":0.77,"y":147},{"s":"C3","x":0.8,"y":136},{"s":"C3","x":0.83,"y":122},{"s":"C3","x":0.86,"y":108},{"s":"C3","x":0.89,"y":92},{"s":"C3","x":0.92,"y":72},{"s":"C3","x":0.95,"y":50},{"s":"C3","x":0.98,"y":26},{"s":"C3","x":1,"y":4}
],
"B5":[
{"s":"C1","x":0.02,"y":50},{"s":"C1","x":0.05,"y":108},{"s":"C1","x":0.08,"y":166},{"s":"C1","x":0.11,"y":223},{"s":"C1","x":0.14,"y":275},{"s":"C1","x":0.17,"y":325},{"s":"C1","x":0.2,"y":375},{"s":"C1","x":0.23,"y":420},{"s":"C1","x":0.26,"y":458},{"s":"C1","x":0.29,"y":495},{"s":"C1","x":0.32,"y":528},{"s":"C1","x":0.35,"y":565},{"s":"C1","x":0.38,"y":592},{"s":"C1","x":0.41,"y":625},{"s":"C1","x":0.44,"y":650},{"s":"C1","x":0.47,"y":675},{"s":"C1","x":0.5,"y":690},{"s":"C1","x":0.53,"y":700},{"s":"C1","x":0.56,"y":712},{"s":"C1","x":0.59,"y":720},{"s":"C1","x":0.62,"y":715},{"s":"C1","x":0.65,"y":700},{"s":"C1","x":0.68,"y":690},{"s":"C1","x":0.71,"y":665},{"s":"C1","x":0.74,"y":640},{"s":"C1","x":0.77,"y":600},{"s":"C1","x":0.8,"y":560},{"s":"C1","x":0.83,"y":510},{"s":"C1","x":0.86,"y":450},{"s":"C1","x":0.89,"y":380},{"s":"C1","x":0.92,"y":300},{"s":"C1","x":0.95,"y":215},{"s":"C1","x":0.98,"y":150},{"s":"C1","x":1,"y":10},
{"s":"C2","x":0.02,"y":46},{"s":"C2","x":0.05,"y":98},{"s":"C2","x":0.08,"y":150},{"s":"C2","x":0.11,"y":200},{"s":"C2","x":0.14,"y":248},{"s":"C2","x":0.17,"y":292},{"s":"C2","x":0.2,"y":338},{"s":"C2","x":0.23,"y":378},{"s":"C2","x":0.26,"y":412},{"s":"C2","x":0.29,"y":445},{"s":"C2","x":0.32,"y":475},{"s":"C2","x":0.35,"y":508},{"s":"C2","x":0.38,"y":535},{"s":"C2","x":0.41,"y":560},{"s":"C2","x":0.44,"y":585},{"s":"C2","x":0.47,"y":605},{"s":"C2","x":0.5,"y":618},{"s":"C2","x":0.53,"y":630},{"s":"C2","x":0.56,"y":645},{"s":"C2","x":0.59,"y":650},{"s":"C2","x":0.62,"y":645},{"s":"C2","x":0.65,"y":630},{"s":"C2","x":0.68,"y":618},{"s":"C2","x":0.71,"y":598},{"s":"C2","x":0.74,"y":572},{"s":"C2","x":0.77,"y":540},{"s":"C2","x":0.8,"y":500},{"s":"C2","x":0.83,"y":455},{"s":"C2","x":0.86,"y":402},{"s":"C2","x":0.89,"y":340},{"s":"C2","x":0.92,"y":268},{"s":"C2","x":0.95,"y":190},{"s":"C2","x":0.98,"y":135},{"s":"C2","x":1,"y":8},
{"s":"C3","x":0.02,"y":40},{"s":"C3","x":0.05,"y":80},{"s":"C3","x":0.08,"y":118},{"s":"C3","x":0.11,"y":155},{"s":"C3","x":0.14,"y":190},{"s":"C3","x":0.17,"y":225},{"s":"C3","x":0.2,"y":260},{"s":"C3","x":0.23,"y":290},{"s":"C3","x":0.26,"y":318},{"s":"C3","x":0.29,"y":345},{"s":"C3","x":0.32,"y":370},{"s":"C3","x":0.35,"y":395},{"s":"C3","x":0.38,"y":415},{"s":"C3","x":0.41,"y":440},{"s":"C3","x":0.44,"y":458},{"s":"C3","x":0.47,"y":475},{"s":"C3","x":0.5,"y":490},{"s":"C3","x":0.53,"y":500},{"s":"C3","x":0.56,"y":505},{"s":"C3","x":0.59,"y":510},{"s":"C3","x":0.62,"y":505},{"s":"C3","x":0.65,"y":495},{"s":"C3","x":0.68,"y":482},{"s":"C3","x":0.71,"y":465},{"s":"C3","x":0.74,"y":448},{"s":"C3","x":0.77,"y":422},{"s":"C3","x":0.8,"y":392},{"s":"C3","x":0.83,"y":358},{"s":"C3","x":0.86,"y":318},{"s":"C3","x":0.89,"y":268},{"s":"C3","x":0.92,"y":210},{"s":"C3","x":0.95,"y":150},{"s":"C3","x":0.98,"y":110},{"s":"C3","x":1,"y":6}
]
},
"columns":5,
"spacing":{"row":18,"column":29},
"bounds":"flush",
"resolve":{"scale":{"x":"independent","y":"independent","color":"independent","shape":"independent"},"legend":{"color":"independent","shape":"independent"}},
"concat":[
{"width":136,"height":96,"title":"Sampler: RWM","layer":[
{"data":{"name":"A1"},"mark":"point","encoding":{
"x":{"field":"x","type":"quantitative","scale":{"domain":[-0.03,0.87],"nice":false,"zero":false},"axis":{"values":[0,0.2,0.4,0.6,0.8],"format":".1f","title":null}},
"y":{"field":"y","type":"quantitative","scale":{"domain":[0.35,7.3],"nice":false,"zero":false},"axis":{"values":[2,4,6],"title":"Expected Jump Distance","minExtent":15,"maxExtent":15}},
"color":{"field":"s","type":"nominal","title":null},
"shape":{"field":"s","type":"nominal","title":null}}},
{"data":{"name":"r1"},"mark":"rule","encoding":{"x":{"field":"x","type":"quantitative"}}}]},
{"width":136,"height":96,"title":"Sampler: GWG(ᵗ⁄ₜ₊₁)","layer":[
{"data":{"name":"A2"},"mark":"point","encoding":{
"x":{"field":"x","type":"quantitative","scale":{"domain":[-0.05,1.05],"nice":false,"zero":false},"axis":{"values":[0,0.25,0.5,0.75,1],"format":".2f","title":null}},
"y":{"field":"y","type":"quantitative","scale":{"domain":[-38,752],"nice":false,"zero":false},"axis":{"values":[0,200,400,600],"title":null}},
"color":{"field":"s","type":"nominal","title":null},
"shape":{"field":"s","type":"nominal","title":null}}},
{"data":{"name":"r2"},"mark":"rule","encoding":{"x":{"field":"x","type":"quantitative"}}}]},
{"width":136,"height":96,"title":"Sampler: LBP(ᵗ⁄ₜ₊₁)","layer":[
{"data":{"name":"A3"},"mark":"point","encoding":{
"x":{"field":"x","type":"quantitative","scale":{"domain":[-0.05,1.05],"nice":false,"zero":false},"axis":{"values":[0,0.25,0.5,0.75,1],"format":".2f","title":null}},
"y":{"field":"y","type":"quantitative","scale":{"domain":[-38,752],"nice":false,"zero":false},"axis":{"values":[0,200,400,600],"title":null}},
"color":{"field":"s","type":"nominal","title":null,"legend":{"orient":"none","legendX":54,"legendY":61}},
"shape":{"field":"s","type":"nominal","title":null,"legend":{"orient":"none","legendX":54,"legendY":61}}}},
{"data":{"name":"r2"},"mark":"rule","encoding":{"x":{"field":"x","type":"quantitative"}}}]},
{"width":136,"height":96,"title":"Sampler: GWG(√t)","layer":[
{"data":{"name":"A4"},"mark":"point","encoding":{
"x":{"field":"x","type":"quantitative","scale":{"domain":[-0.05,1.05],"nice":false,"zero":false},"axis":{"values":[0,0.25,0.5,0.75,1],"format":".2f","title":null}},
"y":{"field":"y","type":"quantitative","scale":{"domain":[-38,752],"nice":false,"zero":false},"axis":{"values":[0,200,400,600],"title":null}},
"color":{"field":"s","type":"nominal","title":null},
"shape":{"field":"s","type":"nominal","title":null}}},
{"data":{"name":"r2"},"mark":"rule","encoding":{"x":{"field":"x","type":"quantitative"}}}]},
{"width":136,"height":96,"title":"Sampler: LBP(√t)","layer":[
{"data":{"name":"A5"},"mark":"point","encoding":{
"x":{"field":"x","type":"quantitative","scale":{"domain":[-0.05,1.05],"nice":false,"zero":false},"axis":{"values":[0,0.25,0.5,0.75,1],"format":".2f","title":null}},
"y":{"field":"y","type":"quantitative","scale":{"domain":[-38,752],"nice":false,"zero":false},"axis":{"values":[0,200,400,600],"title":null}},
"color":{"field":"s","type":"nominal","title":null,"legend":{"orient":"none","legendX":52,"legendY":61}},
"shape":{"field":"s","type":"nominal","title":null,"legend":{"orient":"none","legendX":52,"legendY":61}}}},
{"data":{"name":"r2"},"mark":"rule","encoding":{"x":{"field":"x","type":"quantitative"}}}]},
{"width":136,"height":96,"layer":[
{"data":{"name":"B1"},"mark":"point","encoding":{
"x":{"field":"x","type":"quantitative","scale":{"domain":[-0.03,0.87],"nice":false,"zero":false},"axis":{"values":[0,0.2,0.4,0.6,0.8],"format":".1f","title":"Acceptance Rate"}},
"y":{"field":"y","type":"quantitative","scale":{"domain":[5.7,13.1],"nice":false,"zero":false},"axis":{"values":[6,8,10,12],"title":"Effective Sample Size","minExtent":15,"maxExtent":15}},
"color":{"field":"s","type":"nominal","title":null},
"shape":{"field":"s","type":"nominal","title":null}}},
{"data":{"name":"r1"},"mark":"rule","encoding":{"x":{"field":"x","type":"quantitative"}}}]},
{"width":136,"height":96,"layer":[
{"data":{"name":"B2"},"mark":"point","encoding":{
"x":{"field":"x","type":"quantitative","scale":{"domain":[-0.05,1.05],"nice":false,"zero":false},"axis":{"values":[0,0.25,0.5,0.75,1],"format":".2f","title":"Acceptance Rate"}},
"y":{"field":"y","type":"quantitative","scale":{"domain":[-38,752],"nice":false,"zero":false},"axis":{"values":[0,200,400,600],"title":null}},
"color":{"field":"s","type":"nominal","title":null},
"shape":{"field":"s","type":"nominal","title":null}}},
{"data":{"name":"r2"},"mark":"rule","encoding":{"x":{"field":"x","type":"quantitative"}}}]},
{"width":136,"height":96,"layer":[
{"data":{"name":"B3"},"mark":"point","encoding":{
"x":{"field":"x","type":"quantitative","scale":{"domain":[-0.05,1.05],"nice":false,"zero":false},"axis":{"values":[0,0.25,0.5,0.75,1],"format":".2f","title":"Acceptance Rate"}},
"y":{"field":"y","type":"quantitative","scale":{"domain":[-38,752],"nice":false,"zero":false},"axis":{"values":[0,200,400,600],"title":null}},
"color":{"field":"s","type":"nominal","title":null,"legend":{"orient":"top-left"}},
"shape":{"field":"s","type":"nominal","title":null,"legend":{"orient":"top-left"}}}},
{"data":{"name":"r2"},"mark":"rule","encoding":{"x":{"field":"x","type":"quantitative"}}}]},
{"width":136,"height":96,"layer":[
{"data":{"name":"B4"},"mark":"point","encoding":{
"x":{"field":"x","type":"quantitative","scale":{"domain":[-0.05,1.05],"nice":false,"zero":false},"axis":{"values":[0,0.25,0.5,0.75,1],"format":".2f","title":"Acceptance Rate"}},
"y":{"field":"y","type":"quantitative","scale":{"domain":[-38,752],"nice":false,"zero":false},"axis":{"values":[0,200,400,600],"title":null}},
"color":{"field":"s","type":"nominal","title":null},
"shape":{"field":"s","type":"nominal","title":null}}},
{"data":{"name":"r2"},"mark":"rule","encoding":{"x":{"field":"x","type":"quantitative"}}}]},
{"width":136,"height":96,"layer":[
{"data":{"name":"B5"},"mark":"point","encoding":{
"x":{"field":"x","type":"quantitative","scale":{"domain":[-0.05,1.05],"nice":false,"zero":false},"axis":{"values":[0,0.25,0.5,0.75,1],"format":".2f","title":"Acceptance Rate"}},
"y":{"field":"y","type":"quantitative","scale":{"domain":[-38,752],"nice":false,"zero":false},"axis":{"values":[0,200,400,600],"title":null}},
"color":{"field":"s","type":"nominal","title":null,"legend":{"orient":"top-left"}},
"shape":{"field":"s","type":"nominal","title":null,"legend":{"orient":"top-left"}}}},
{"data":{"name":"r2"},"mark":"rule","encoding":{"x":{"field":"x","type":"quantitative"}}}]}
]
}
